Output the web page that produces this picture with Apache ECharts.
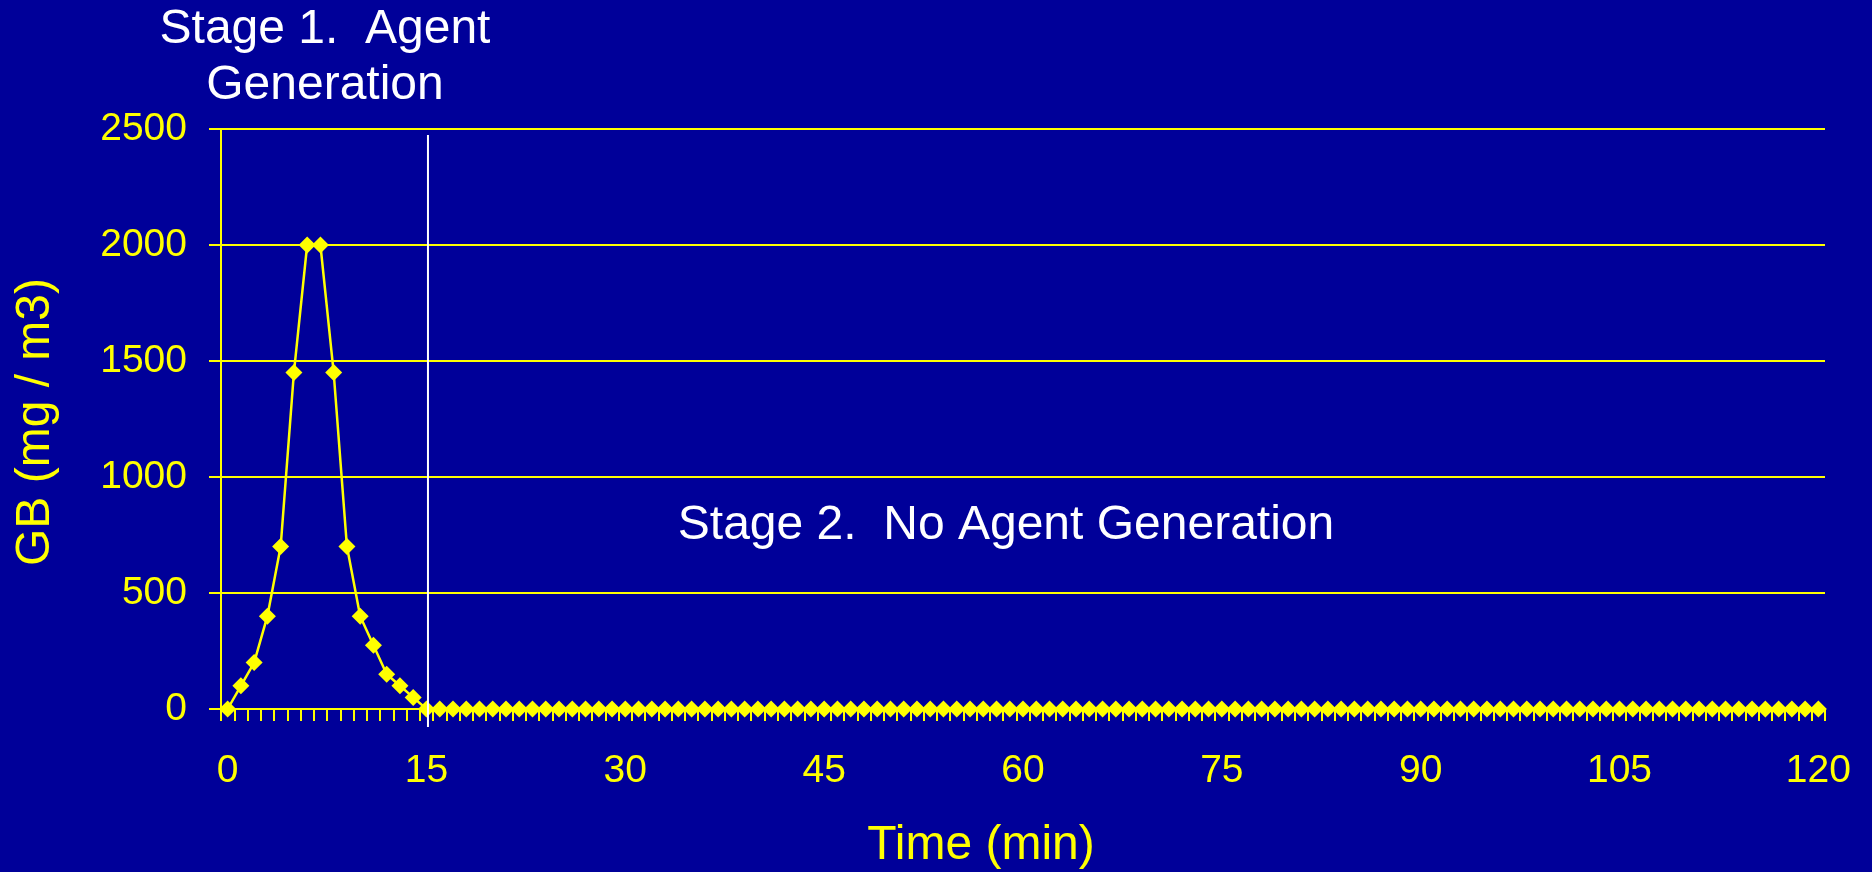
<!DOCTYPE html>
<html>
<head>
<meta charset="utf-8">
<title>GB concentration</title>
<script src="https://cdn.jsdelivr.net/npm/echarts@6/dist/echarts.min.js"></script>
<style>
  html, body { margin: 0; padding: 0; background: #000099; }
  #chart { width: 1872px; height: 872px; }
</style>
</head>
<body>
<div id="chart"></div>
<script>
// minutes 0..120, one point per minute
const minutes = [
  '0', '1', '2', '3', '4', '5', '6', '7', '8', '9', '10', '11', '12', '13', '14', '15', '16', '17', '18', '19',
  '20', '21', '22', '23', '24', '25', '26', '27', '28', '29', '30', '31', '32', '33', '34', '35', '36', '37', '38', '39',
  '40', '41', '42', '43', '44', '45', '46', '47', '48', '49', '50', '51', '52', '53', '54', '55', '56', '57', '58', '59',
  '60', '61', '62', '63', '64', '65', '66', '67', '68', '69', '70', '71', '72', '73', '74', '75', '76', '77', '78', '79',
  '80', '81', '82', '83', '84', '85', '86', '87', '88', '89', '90', '91', '92', '93', '94', '95', '96', '97', '98', '99',
  '100', '101', '102', '103', '104', '105', '106', '107', '108', '109', '110', '111', '112', '113', '114', '115', '116', '117', '118', '119',
  '120'
]

// GB concentration (mg / m3)
const gbValues = [
  0, 100, 200, 400, 700, 1450, 2000, 2000, 1450, 700, 400, 275, 150, 100, 50, 0, 0, 0, 0, 0,
  0, 0, 0, 0, 0, 0, 0, 0, 0, 0, 0, 0, 0, 0, 0, 0, 0, 0, 0, 0,
  0, 0, 0, 0, 0, 0, 0, 0, 0, 0, 0, 0, 0, 0, 0, 0, 0, 0, 0, 0,
  0, 0, 0, 0, 0, 0, 0, 0, 0, 0, 0, 0, 0, 0, 0, 0, 0, 0, 0, 0,
  0, 0, 0, 0, 0, 0, 0, 0, 0, 0, 0, 0, 0, 0, 0, 0, 0, 0, 0, 0,
  0, 0, 0, 0, 0, 0, 0, 0, 0, 0, 0, 0, 0, 0, 0, 0, 0, 0, 0, 0,
  0
]

const yTicks     = [0, 500, 1000, 1500, 2000, 2500]
const stageSplit = '15'   // end of agent generation

const FONT   = '"Liberation Sans", Arial, sans-serif'
const YELLOW = '#FFFF00'

const chart = echarts.init(document.getElementById('chart'), null, { renderer: 'canvas' })

chart.setOption({
  backgroundColor: '#000099',
  animation: false,
  grid: { left: 221, right: 47, top: 129, bottom: 163, containLabel: false },
  xAxis: {
    type: 'category',
    data: minutes,
    boundaryGap: true,
    axisLine: { lineStyle: { color: YELLOW, width: 2 } },
    axisTick: { show: true, interval: 0, length: 12, lineStyle: { color: YELLOW, width: 2 } },
    axisLabel: { interval: 14, color: YELLOW, fontSize: 39, fontFamily: FONT, margin: 43 },
    splitLine: { show: false }
  },
  yAxis: {
    type: 'value',
    min: yTicks[0],
    max: yTicks[yTicks.length - 1],
    interval: 500,
    axisLine: { show: true, lineStyle: { color: YELLOW, width: 2 } },
    axisTick: { show: true, length: 12, lineStyle: { color: YELLOW, width: 2 } },
    axisLabel: { color: YELLOW, fontSize: 39, fontFamily: FONT, margin: 34, formatter: v => String(v) },
    splitLine: { lineStyle: { color: YELLOW, width: 2 } }
  },
  series: [{
    type: 'line',
    data: gbValues,
    symbol: 'diamond',
    symbolSize: 17,
    showAllSymbol: true,
    sampling: null,
    lineStyle: { color: YELLOW, width: 2.5 },
    itemStyle: { color: YELLOW },
    z: 3
  }]
})

// stage divider and text labels
const xSplit = chart.convertToPixel({ xAxisIndex: 0 }, stageSplit)
const yTop   = chart.convertToPixel({ yAxisIndex: 0 }, yTicks[yTicks.length - 1])
const yZero  = chart.convertToPixel({ yAxisIndex: 0 }, yTicks[0])

const txt = (x, y, text, fill, extra) => Object.assign({
  type: 'text', x, y, z: 20,
  style: { text, fill, font: '48px ' + FONT, align: 'center', verticalAlign: 'middle' }
}, extra || {})

chart.setOption({
  graphic: [
    {
      type: 'line', z: 10,
      shape: { x1: xSplit + 1.5, y1: yTop + 6, x2: xSplit + 1.5, y2: yZero + 18 },
      style: { stroke: '#FFFFFF', lineWidth: 2 }
    },
    txt(325, 30, 'Stage 1.  Agent', '#FFFFFF'),
    txt(325, 86, 'Generation', '#FFFFFF'),
    txt(1006, 526, 'Stage 2.  No Agent Generation', '#FFFFFF'),
    txt(981, 846, 'Time (min)', YELLOW),
    txt(36, 422, 'GB (mg / m3)', YELLOW, { rotation: Math.PI / 2 })
  ]
})
</script>
</body>
</html>
